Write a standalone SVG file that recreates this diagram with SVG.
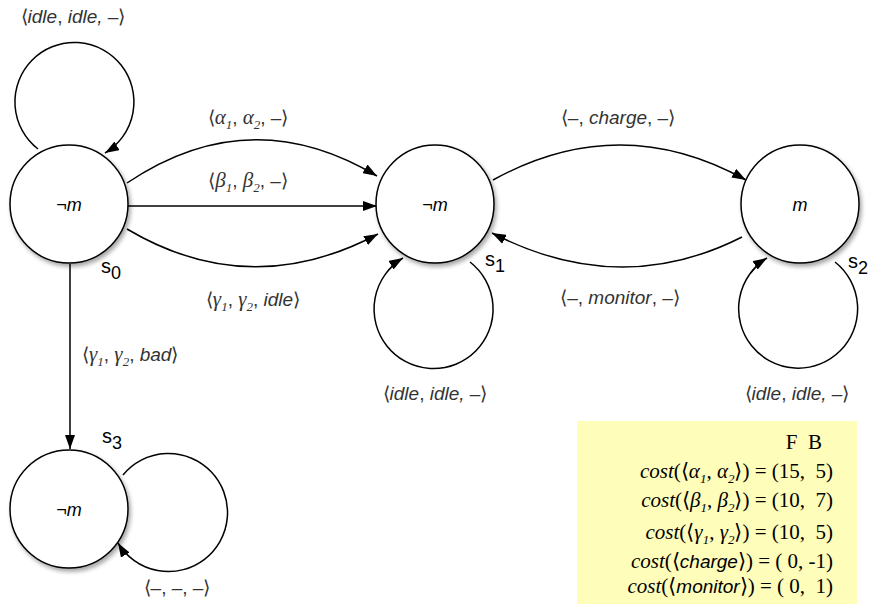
<svg xmlns="http://www.w3.org/2000/svg" width="873" height="605" viewBox="0 0 873 605">
<style>
.node{fill:#fff;stroke:#000;stroke-width:1.5;filter:url(#sh)}
.edge{fill:none;stroke:#000;stroke-width:1.5}
.lbl{font-family:"Liberation Sans",Arial,sans-serif;font-size:19px;fill:#333;font-style:italic}
.up{font-style:normal}
.nl{font-family:"Liberation Sans",Arial,sans-serif;font-size:18px;font-style:italic;fill:#000;text-anchor:middle}
.sn{font-family:"Liberation Sans",Arial,sans-serif;font-size:20px;fill:#000}
.gk{font-family:"Liberation Serif","Times New Roman",serif;font-style:italic;font-size:21px}
.sub{font-size:13px}
.ct{font-family:"Liberation Serif","Times New Roman",serif;font-size:21px;fill:#000;text-anchor:end;white-space:pre}
.it{font-style:italic}
.sa{font-family:"Liberation Sans",Arial,sans-serif;font-style:italic;font-size:19px}
</style>
<defs>
<marker id="ah" markerWidth="14" markerHeight="10" refX="14" refY="5" orient="auto" markerUnits="userSpaceOnUse">
<path d="M0,0 L14,5 L0,10 Z" fill="#000"/>
</marker>
<filter id="sh" x="-20%" y="-20%" width="150%" height="150%">
<feDropShadow dx="2" dy="3" stdDeviation="2" flood-color="#000" flood-opacity="0.35"/>
</filter>
</defs>

<g id="connectors">
<path class="edge" d="M38,149 A59.5,59.5 0 1 1 105,153" marker-end="url(#ah)"/>
<path class="edge" d="M127,183 Q250,100 377,176" marker-end="url(#ah)"/>
<path class="edge" d="M128,206 L377,206" marker-end="url(#ah)"/>
<path class="edge" d="M127,229 Q250,302 378,234" marker-end="url(#ah)"/>
<path class="edge" d="M493,180 Q620,110 746,180" marker-end="url(#ah)"/>
<path class="edge" d="M742,237 Q620,299 492,233" marker-end="url(#ah)"/>
<path class="edge" d="M470,262 A59.5,59.5 0 1 1 403,258" marker-end="url(#ah)"/>
<path class="edge" d="M835,262 A59.5,59.5 0 1 1 767,258" marker-end="url(#ah)"/>
<path class="edge" d="M123,475 A59,59 0 1 1 118,543" marker-end="url(#ah)"/>
<path class="edge" d="M70,264 L70,449" marker-end="url(#ah)"/>
</g>

<g id="s0">
<circle class="node" cx="69" cy="204" r="59"/>
<text class="nl" x="69" y="211">¬m</text>
<text class="sn" x="101" y="273">s<tspan font-size="18" dy="6">0</tspan></text>
</g>
<g id="s1">
<circle class="node" cx="435" cy="204" r="59"/>
<text class="nl" x="435" y="211">¬m</text>
<text class="sn" x="485" y="266">s<tspan font-size="18" dy="6">1</tspan></text>
</g>
<g id="s2">
<circle class="node" cx="800" cy="204" r="59"/>
<text class="nl" x="800" y="211">m</text>
<text class="sn" x="848" y="268">s<tspan font-size="18" dy="6">2</tspan></text>
</g>
<g id="s3">
<circle class="node" cx="69" cy="509" r="59"/>
<text class="nl" x="69" y="516">¬m</text>
<text class="sn" x="102" y="443">s<tspan font-size="18" dy="6">3</tspan></text>
</g>

<g id="labels">
<text class="lbl" x="73" y="23" text-anchor="middle"><tspan class="up">⟨</tspan>idle<tspan class="up">, </tspan>idle, –<tspan class="up">⟩</tspan></text>
<text class="lbl" x="248" y="124" text-anchor="middle"><tspan class="up">⟨</tspan><tspan class="gk">α</tspan><tspan class="gk sub" dy="5">1</tspan><tspan class="up" dy="-5">, </tspan><tspan class="gk">α</tspan><tspan class="gk sub" dy="5">2</tspan><tspan class="up" dy="-5">, –⟩</tspan></text>
<text class="lbl" x="248" y="187" text-anchor="middle"><tspan class="up">⟨</tspan><tspan class="gk">β</tspan><tspan class="gk sub" dy="5">1</tspan><tspan class="up" dy="-5">, </tspan><tspan class="gk">β</tspan><tspan class="gk sub" dy="5">2</tspan><tspan class="up" dy="-5">, –⟩</tspan></text>
<text class="lbl" x="253" y="306" text-anchor="middle"><tspan class="up">⟨</tspan><tspan class="gk">γ</tspan><tspan class="gk sub" dy="5">1</tspan><tspan class="up" dy="-5">, </tspan><tspan class="gk">γ</tspan><tspan class="gk sub" dy="5">2</tspan><tspan class="up" dy="-5">, </tspan>idle<tspan class="up">⟩</tspan></text>
<text class="lbl" x="82" y="361"><tspan class="up">⟨</tspan><tspan class="gk">γ</tspan><tspan class="gk sub" dy="5">1</tspan><tspan class="up" dy="-5">, </tspan><tspan class="gk">γ</tspan><tspan class="gk sub" dy="5">2</tspan><tspan class="up" dy="-5">, </tspan>bad<tspan class="up">⟩</tspan></text>
<text class="lbl" x="618" y="124" text-anchor="middle"><tspan class="up">⟨–, </tspan>charge<tspan class="up">, –⟩</tspan></text>
<text class="lbl" x="620" y="304" text-anchor="middle"><tspan class="up">⟨–, </tspan>monitor<tspan class="up">, –⟩</tspan></text>
<text class="lbl" x="435" y="400" text-anchor="middle"><tspan class="up">⟨</tspan>idle<tspan class="up">, </tspan>idle, –<tspan class="up">⟩</tspan></text>
<text class="lbl" x="797" y="400" text-anchor="middle"><tspan class="up">⟨</tspan>idle<tspan class="up">, </tspan>idle, –<tspan class="up">⟩</tspan></text>
<text class="lbl" x="177" y="594" text-anchor="middle"><tspan class="up">⟨–, –, –⟩</tspan></text>
</g>

<g id="cost-box">
<rect x="577" y="421" width="280" height="183" fill="#FEFDBA"/>
<text class="ct" x="822" y="449">F  B</text>
<text class="ct" x="833" y="478"><tspan class="it">cost</tspan>(⟨<tspan class="it">α</tspan><tspan class="it" font-size="13" dy="5">1</tspan><tspan dy="-5">, </tspan><tspan class="it">α</tspan><tspan class="it" font-size="13" dy="5">2</tspan><tspan dy="-5">⟩) = (15,  5)</tspan></text>
<text class="ct" x="833" y="507"><tspan class="it">cost</tspan>(⟨<tspan class="it">β</tspan><tspan class="it" font-size="13" dy="5">1</tspan><tspan dy="-5">, </tspan><tspan class="it">β</tspan><tspan class="it" font-size="13" dy="5">2</tspan><tspan dy="-5">⟩) = (10,  7)</tspan></text>
<text class="ct" x="833" y="539"><tspan class="it">cost</tspan>(⟨<tspan class="it">γ</tspan><tspan class="it" font-size="13" dy="5">1</tspan><tspan dy="-5">, </tspan><tspan class="it">γ</tspan><tspan class="it" font-size="13" dy="5">2</tspan><tspan dy="-5">⟩) = (10,  5)</tspan></text>
<text class="ct" x="833" y="568"><tspan class="it">cost</tspan>(⟨<tspan class="sa">charge</tspan>⟩) = ( 0, -1)</text>
<text class="ct" x="833" y="593"><tspan class="it">cost</tspan>(⟨<tspan class="sa">monitor</tspan>⟩) = ( 0,  1)</text>
</g>
</svg>
